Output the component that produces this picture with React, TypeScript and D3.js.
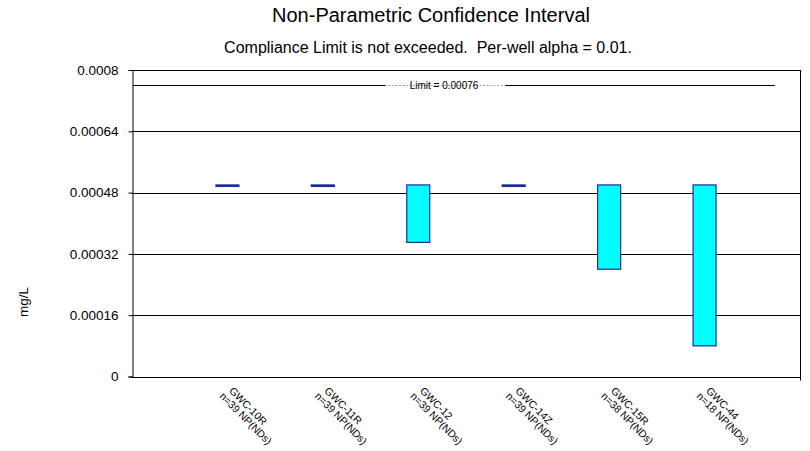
import { useEffect, useRef } from "react";
import * as d3 from "d3";

const wells = ["GWC-10R", "GWC-11R", "GWC-12", "GWC-14Z", "GWC-15R", "GWC-44"];
const counts = ["n=39 NP(NDs)", "n=39 NP(NDs)", "n=39 NP(NDs)", "n=39 NP(NDs)", "n=38 NP(NDs)", "n=18 NP(NDs)"];
const lower = [0.0005, 0.0005, 0.00035, 0.0005, 0.00028, 0.00008];
const upper = [0.0005, 0.0005, 0.0005, 0.0005, 0.0005, 0.0005];
const yTicks = [0, 0.00016, 0.00032, 0.00048, 0.00064, 0.0008];
const yTickLabels = ["0", "0.00016", "0.00032", "0.00048", "0.00064", "0.0008"];
const limit = 0.00076;

const W = 810;
const H = 451;
const FONT = "'Liberation Sans', Arial, sans-serif";

export default function App() {
  const svgRef = useRef<SVGSVGElement | null>(null);

  useEffect(() => {
    if (!svgRef.current) return;
    const svg = d3.select(svgRef.current);
    svg.selectAll("*").remove();

    const margin = { top: 70, right: 10, bottom: 74.5, left: 132 };
    const innerW = W - margin.left - margin.right;
    const innerH = H - margin.top - margin.bottom;

    svg.append("rect").attr("width", W).attr("height", H).attr("fill", "#fff");

    // titles
    svg
      .append("text")
      .attr("x", 431)
      .attr("y", 22)
      .attr("text-anchor", "middle")
      .style("font-family", FONT)
      .style("font-size", "20px")
      .text("Non-Parametric Confidence Interval");

    svg
      .append("text")
      .attr("x", 428)
      .attr("y", 53)
      .attr("text-anchor", "middle")
      .style("font-family", FONT)
      .style("font-size", "16px")
      .style("white-space", "pre")
      .text("Compliance Limit is not exceeded.  Per-well alpha = 0.01.");

    const g = svg
      .append("g")
      .attr("transform", `translate(${margin.left},${margin.top})`);

    const x = d3.scalePoint<string>().domain(wells).range([0, innerW]).padding(1);
    const y = d3.scaleLinear().domain([0, 0.0008]).range([innerH, 0]);

    // grid lines
    g.append("g")
      .selectAll("line")
      .data(yTicks.slice(1))
      .join("line")
      .attr("x1", 0)
      .attr("x2", innerW)
      .attr("y1", (d) => Math.round(y(d)) + 0.5)
      .attr("y2", (d) => Math.round(y(d)) + 0.5)
      .attr("stroke", "#000")
      .attr("stroke-width", 1);

    // right border
    g.append("line")
      .attr("x1", innerW + 0.5)
      .attr("x2", innerW + 0.5)
      .attr("y1", 0)
      .attr("y2", innerH + 4)
      .attr("stroke", "#000");

    // Y axis
    const yAxis = g
      .append("g")
      .attr("transform", "translate(0.5,0)")
      .call(
        d3
          .axisLeft(y)
          .tickValues(yTicks)
          .tickSize(4)
          .tickFormat((_, i) => yTickLabels[i]),
      );
    yAxis.select(".domain").attr("stroke", "#000");
    yAxis.selectAll(".tick line").attr("stroke", "#000");
    yAxis
      .selectAll("text")
      .attr("x", -14)
      .attr("fill", "#000")
      .style("font-family", FONT)
      .style("font-size", "13.5px");

    // X axis line
    g.append("line")
      .attr("x1", 0)
      .attr("x2", innerW)
      .attr("y1", Math.round(innerH) + 0.5)
      .attr("y2", Math.round(innerH) + 0.5)
      .attr("stroke", "#000");

    // y label
    svg
      .append("text")
      .attr("transform", `translate(28,${302}) rotate(-90)`)
      .attr("text-anchor", "middle")
      .style("font-family", FONT)
      .style("font-size", "13.5px")
      .text("mg/L");

    // limit line
    const ly = Math.round(y(limit)) + 0.5;
    const limitG = g.append("g");
    limitG
      .append("line")
      .attr("x1", 1)
      .attr("x2", 253)
      .attr("y1", ly)
      .attr("y2", ly)
      .attr("stroke", "#000");
    limitG
      .append("line")
      .attr("x1", 253)
      .attr("x2", 371)
      .attr("y1", ly)
      .attr("y2", ly)
      .attr("stroke", "#888")
      .attr("stroke-width", 0.8)
      .attr("stroke-dasharray", "2,1.5");
    limitG
      .append("line")
      .attr("x1", 373)
      .attr("x2", 643)
      .attr("y1", ly)
      .attr("y2", ly)
      .attr("stroke", "#000");
    limitG
      .append("text")
      .attr("x", 312)
      .attr("y", ly + 3)
      .attr("text-anchor", "middle")
      .style("font-family", FONT)
      .style("font-size", "10px")
      .text(`Limit = ${limit}`);

    // interval bars
    const bw = 23;
    g.append("g")
      .selectAll("rect")
      .data(wells)
      .join("rect")
      .attr("x", (d) => (x(d) as number) - bw / 2)
      .attr("y", (_, i) => y(upper[i]))
      .attr("width", bw)
      .attr("height", (_, i) => Math.max(y(lower[i]) - y(upper[i]), 1.5))
      .attr("fill", (_, i) => (upper[i] - lower[i] > 0 ? "#00ffff" : "#1c2c9c"))
      .attr("stroke", "#1c2c9c")
      .attr("stroke-width", 1.2);

    // x labels
    const labels = g
      .append("g")
      .selectAll("g")
      .data(wells)
      .join("g")
      .attr("transform", (d) => `translate(${(x(d) as number) + 1},${innerH + 15}) rotate(45)`);
    labels
      .append("text")
      .attr("x", 0)
      .attr("y", 0)
      .style("font-family", FONT)
      .style("font-size", "10.5px")
      .text((d) => d);
    labels
      .append("text")
      .attr("x", -3)
      .attr("y", 10.5)
      .style("font-family", FONT)
      .style("font-size", "10.5px")
      .text((_, i) => counts[i]);
  }, []);

  return (
    <svg
      ref={svgRef}
      width={W}
      height={H}
      style={{ position: "absolute", left: 0, top: 0 }}
    />
  );
}
